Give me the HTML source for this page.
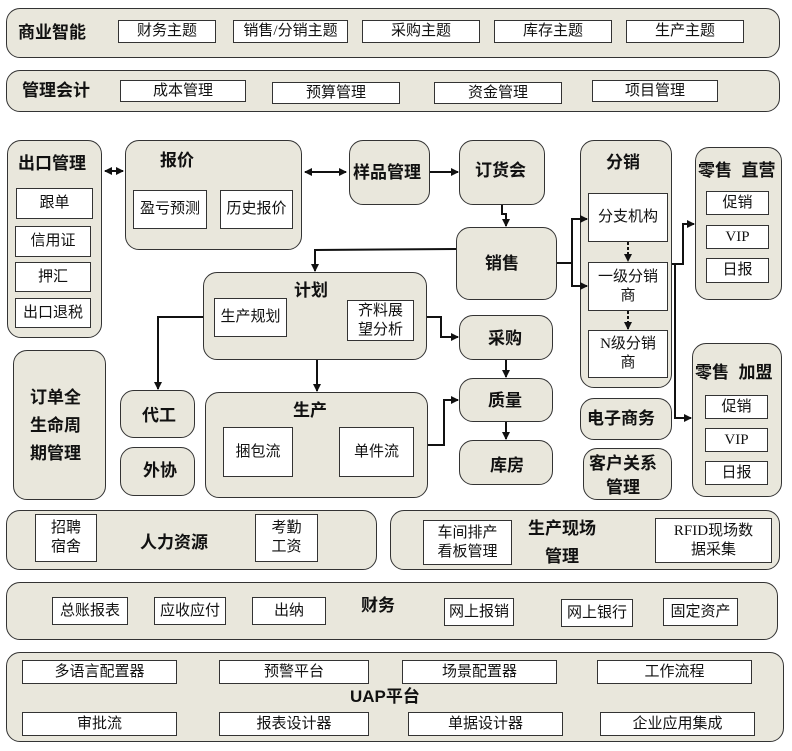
<!DOCTYPE html>
<html><head><meta charset="utf-8"><style>
body{margin:0;width:792px;height:751px;background:#fff;position:relative;overflow:hidden;font-family:"Liberation Serif","Noto Sans CJK SC",sans-serif;}
.r{position:absolute;background:#e9e7dc;border:1.5px solid #333;border-radius:14px;box-sizing:border-box;}
.b{position:absolute;background:#fff;border:1.5px solid #333;box-sizing:border-box;display:flex;align-items:center;justify-content:center;text-align:center;font-size:15px;line-height:19px;color:#111;}
.t{position:absolute;font-weight:bold;font-size:17px;color:#111;white-space:nowrap;line-height:21px;font-family:"Liberation Sans","Noto Sans CJK SC",sans-serif;}
svg{position:absolute;left:0;top:0;}
</style></head><body>
<!-- row1 -->
<div class="r" style="left:6px;top:8px;width:774px;height:50px"></div>
<div class="t" style="left:18px;top:22px">商业智能</div>
<div class="b" style="left:118px;top:20px;width:98px;height:23px">财务主题</div>
<div class="b" style="left:233px;top:20px;width:115px;height:23px">销售/分销主题</div>
<div class="b" style="left:362px;top:20px;width:118px;height:23px">采购主题</div>
<div class="b" style="left:494px;top:20px;width:118px;height:23px">库存主题</div>
<div class="b" style="left:626px;top:20px;width:118px;height:23px">生产主题</div>
<!-- row2 -->
<div class="r" style="left:6px;top:70px;width:774px;height:42px"></div>
<div class="t" style="left:22px;top:80px">管理会计</div>
<div class="b" style="left:120px;top:80px;width:126px;height:22px">成本管理</div>
<div class="b" style="left:272px;top:82px;width:128px;height:22px">预算管理</div>
<div class="b" style="left:434px;top:82px;width:128px;height:22px">资金管理</div>
<div class="b" style="left:592px;top:80px;width:126px;height:22px">项目管理</div>

<!-- 出口管理 -->
<div class="r" style="left:7px;top:140px;width:95px;height:198px"></div>
<div class="t" style="left:18px;top:153px">出口管理</div>
<div class="b" style="left:16px;top:188px;width:77px;height:31px">跟单</div>
<div class="b" style="left:15px;top:226px;width:76px;height:31px">信用证</div>
<div class="b" style="left:15px;top:262px;width:76px;height:30px">押汇</div>
<div class="b" style="left:15px;top:298px;width:76px;height:30px">出口退税</div>
<!-- 报价 -->
<div class="r" style="left:125px;top:140px;width:177px;height:110px"></div>
<div class="t" style="left:160px;top:150px">报价</div>
<div class="b" style="left:133px;top:190px;width:74px;height:39px">盈亏预测</div>
<div class="b" style="left:220px;top:190px;width:73px;height:39px">历史报价</div>
<div class="r" style="left:349px;top:140px;width:81px;height:65px"></div>
<div class="t" style="left:353px;top:162px">样品管理</div>
<div class="r" style="left:459px;top:140px;width:86px;height:65px"></div>
<div class="t" style="left:475px;top:160px">订货会</div>
<div class="r" style="left:456px;top:227px;width:101px;height:73px"></div>
<div class="t" style="left:485px;top:253px">销售</div>
<!-- 计划 -->
<div class="r" style="left:203px;top:272px;width:224px;height:88px"></div>
<div class="t" style="left:294px;top:280px">计划</div>
<div class="b" style="left:214px;top:298px;width:73px;height:39px">生产规划</div>
<div class="b" style="left:347px;top:300px;width:67px;height:41px">齐料展<br>望分析</div>
<div class="r" style="left:459px;top:315px;width:94px;height:45px"></div>
<div class="t" style="left:488px;top:328px">采购</div>
<div class="r" style="left:459px;top:378px;width:94px;height:44px"></div>
<div class="t" style="left:488px;top:390px">质量</div>
<div class="r" style="left:459px;top:440px;width:94px;height:45px"></div>
<div class="t" style="left:490px;top:455px">库房</div>
<!-- 生产 -->
<div class="r" style="left:205px;top:392px;width:223px;height:106px"></div>
<div class="t" style="left:293px;top:400px">生产</div>
<div class="b" style="left:223px;top:427px;width:70px;height:50px">捆包流</div>
<div class="b" style="left:339px;top:427px;width:75px;height:50px">单件流</div>
<div class="r" style="left:120px;top:390px;width:75px;height:48px"></div>
<div class="t" style="left:142px;top:405px">代工</div>
<div class="r" style="left:120px;top:447px;width:75px;height:49px"></div>
<div class="t" style="left:143px;top:460px">外协</div>
<div class="r" style="left:13px;top:350px;width:93px;height:150px"></div>
<div class="t" style="left:30px;top:384px;line-height:28px">订单全<br>生命周<br>期管理</div>
<!-- 分销 -->
<div class="r" style="left:580px;top:140px;width:92px;height:248px"></div>
<div class="t" style="left:606px;top:152px">分销</div>
<div class="b" style="left:588px;top:193px;width:80px;height:49px">分支机构</div>
<div class="b" style="left:588px;top:262px;width:80px;height:49px">一级分销<br>商</div>
<div class="b" style="left:588px;top:330px;width:80px;height:48px">N级分销<br>商</div>
<div class="r" style="left:580px;top:398px;width:92px;height:42px"></div>
<div class="t" style="left:587px;top:408px">电子商务</div>
<div class="r" style="left:583px;top:448px;width:89px;height:52px"></div>
<div class="t" style="left:589px;top:452px;line-height:24px;text-align:center">客户关系<br>管理</div>
<div class="r" style="left:695px;top:147px;width:87px;height:153px"></div>
<div class="t" style="left:698px;top:160px">零售&nbsp; 直营</div>
<div class="b" style="left:706px;top:191px;width:63px;height:24px">促销</div>
<div class="b" style="left:706px;top:225px;width:63px;height:24px">VIP</div>
<div class="b" style="left:706px;top:258px;width:63px;height:25px">日报</div>
<div class="r" style="left:692px;top:343px;width:90px;height:154px"></div>
<div class="t" style="left:695px;top:362px">零售&nbsp; 加盟</div>
<div class="b" style="left:705px;top:395px;width:63px;height:24px">促销</div>
<div class="b" style="left:705px;top:428px;width:63px;height:24px">VIP</div>
<div class="b" style="left:705px;top:461px;width:63px;height:24px">日报</div>

<!-- HR -->
<div class="r" style="left:6px;top:510px;width:371px;height:60px"></div>
<div class="b" style="left:35px;top:514px;width:62px;height:48px">招聘<br>宿舍</div>
<div class="t" style="left:140px;top:532px">人力资源</div>
<div class="b" style="left:255px;top:514px;width:63px;height:48px">考勤<br>工资</div>
<div class="r" style="left:390px;top:510px;width:390px;height:60px"></div>
<div class="b" style="left:423px;top:520px;width:89px;height:45px">车间排产<br>看板管理</div>
<div class="t" style="left:528px;top:515px;line-height:28px;text-align:center">生产现场<br>管理</div>
<div class="b" style="left:655px;top:518px;width:117px;height:45px">RFID现场数<br>据采集</div>
<!-- 财务 -->
<div class="r" style="left:6px;top:582px;width:772px;height:58px"></div>
<div class="b" style="left:52px;top:597px;width:76px;height:28px">总账报表</div>
<div class="b" style="left:154px;top:597px;width:72px;height:28px">应收应付</div>
<div class="b" style="left:252px;top:597px;width:74px;height:28px">出纳</div>
<div class="t" style="left:361px;top:595px">财务</div>
<div class="b" style="left:444px;top:598px;width:70px;height:28px">网上报销</div>
<div class="b" style="left:561px;top:599px;width:72px;height:28px">网上银行</div>
<div class="b" style="left:663px;top:598px;width:75px;height:28px">固定资产</div>
<!-- UAP -->
<div class="r" style="left:6px;top:652px;width:778px;height:90px"></div>
<div class="b" style="left:22px;top:660px;width:155px;height:24px">多语言配置器</div>
<div class="b" style="left:219px;top:660px;width:150px;height:24px">预警平台</div>
<div class="b" style="left:402px;top:660px;width:155px;height:24px">场景配置器</div>
<div class="b" style="left:597px;top:660px;width:155px;height:24px">工作流程</div>
<div class="t" style="left:350px;top:686px">UAP平台</div>
<div class="b" style="left:22px;top:712px;width:155px;height:24px">审批流</div>
<div class="b" style="left:219px;top:712px;width:150px;height:24px">报表设计器</div>
<div class="b" style="left:408px;top:712px;width:155px;height:24px">单据设计器</div>
<div class="b" style="left:600px;top:712px;width:155px;height:24px">企业应用集成</div>

<svg width="792" height="751">
<defs><marker id="a" markerWidth="8" markerHeight="8" refX="7" refY="4" orient="auto" markerUnits="userSpaceOnUse"><path d="M0,0L8,4L0,8z" fill="#111"/></marker>
<marker id="s" markerWidth="8" markerHeight="8" refX="1" refY="4" orient="auto" markerUnits="userSpaceOnUse"><path d="M8,0L0,4L8,8z" fill="#111"/></marker></defs>
<g stroke="#111" stroke-width="2" fill="none">
<line x1="105" y1="171" x2="123" y2="171" marker-start="url(#s)" marker-end="url(#a)"/>
<line x1="305" y1="172" x2="346" y2="172" marker-start="url(#s)" marker-end="url(#a)"/>
<line x1="430" y1="172" x2="458" y2="172" marker-end="url(#a)"/>
<polyline points="502,205 502,214 506,214 506,226" marker-end="url(#a)"/>
<polyline points="456,249 315,250 315,271" marker-end="url(#a)"/>
<polyline points="203,317 158,317 158,389" marker-end="url(#a)"/>
<line x1="317" y1="360" x2="317" y2="391" marker-end="url(#a)"/>
<polyline points="427,317 441,317 441,337 458,337" marker-end="url(#a)"/>
<polyline points="428,445 444,445 444,400 458,400" marker-end="url(#a)"/>
<line x1="506" y1="360" x2="506" y2="377" marker-end="url(#a)"/>
<line x1="506" y1="422" x2="506" y2="439" marker-end="url(#a)"/>
<polyline points="557,263 572,263 572,219 587,219" marker-end="url(#a)"/>
<polyline points="572,263 572,286 587,286" marker-end="url(#a)"/>
<polyline points="672,264 683,264 683,224 694,224" marker-end="url(#a)"/>
<polyline points="675,264 675,418 691,418" marker-end="url(#a)"/>
<line x1="628" y1="242" x2="628" y2="261" stroke-dasharray="3,2" marker-end="url(#a)"/>
<line x1="628" y1="311" x2="628" y2="329" stroke-dasharray="3,2" marker-end="url(#a)"/>
</g></svg>
</body></html>
